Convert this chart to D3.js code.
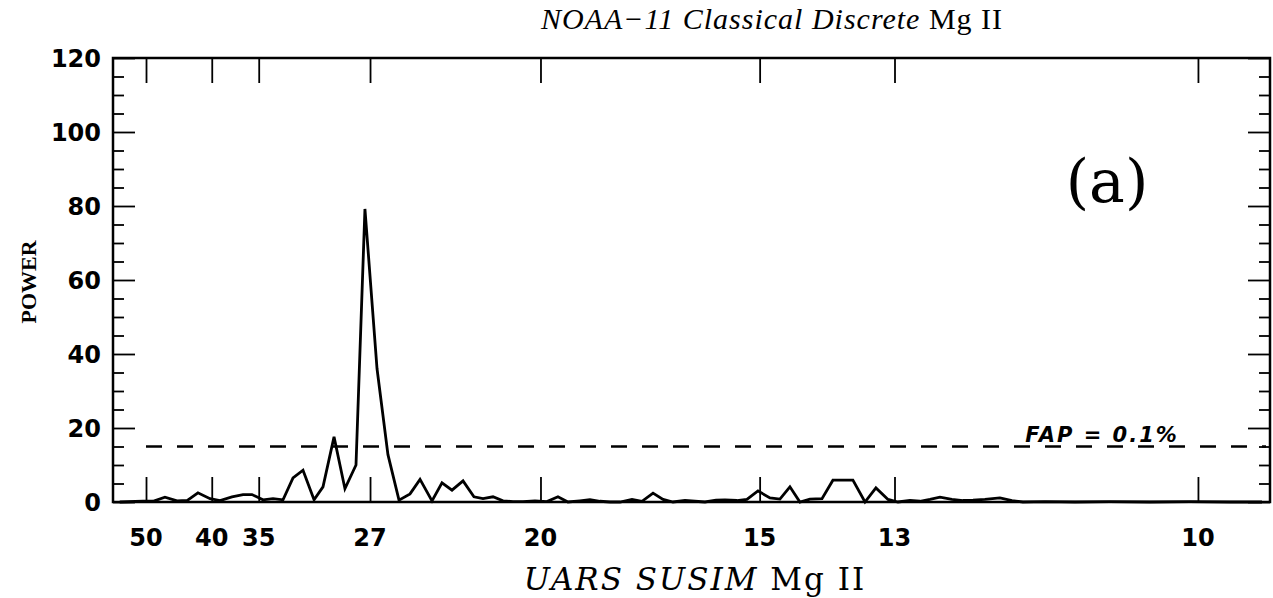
<!DOCTYPE html>
<html>
<head>
<meta charset="utf-8">
<script src="https://cdn.jsdelivr.net/npm/d3@7"></script>
<style>
    body { margin: 0; background: #fff; }
</style>
</head>
<body>
<div id="chart"></div>
<script>
// Frequency (cycles/day) of each periodogram point
const freq = [0.01800, 0.01977, 0.02053, 0.02144, 0.02236, 0.02312, 0.02395, 0.02487, 0.02563, 0.02654,
    0.02738, 0.02806, 0.02890, 0.02966, 0.03042, 0.03118, 0.03194, 0.03278, 0.03346, 0.03430,
    0.03513, 0.03597, 0.03665, 0.03757, 0.03840, 0.03924, 0.04008, 0.04084, 0.04175, 0.04251,
    0.04327, 0.04411, 0.04494, 0.04563, 0.04639, 0.04715, 0.04791, 0.04867, 0.04958, 0.05049,
    0.05133, 0.05209, 0.05300, 0.05376, 0.05452, 0.05529, 0.05605, 0.05696, 0.05772, 0.05856,
    0.05932, 0.06008, 0.06099, 0.06175, 0.06251, 0.06335, 0.06403, 0.06494, 0.06570, 0.06654,
    0.06745, 0.06821, 0.06897, 0.06973, 0.07049, 0.07141, 0.07224, 0.07300, 0.07376, 0.07468,
    0.07551, 0.07643, 0.07719, 0.07810, 0.07886, 0.07962, 0.08038, 0.08129, 0.08213, 0.08289,
    0.08380, 0.08494, 0.08586, 0.08669, 0.08837, 0.09065, 0.09331, 0.09635, 0.09939, 0.10243,
    0.10487];

// Power at each frequency
const power = [0, 0.2, 0.2, 1.3, 0.3, 0.4, 2.5, 0.9, 0.4, 1.4,
    2.0, 2.0, 0.6, 0.9, 0.6, 6.5, 8.6, 0.6, 4.1, 17.6,
    3.6, 10, 79.2, 36, 12.8, 0.5, 2.2, 6.1, 0.3, 5.2,
    3.2, 5.7, 1.4, 0.9, 1.4, 0.3, 0.1, 0.1, 0.3, 0.1,
    1.4, 0, 0.3, 0.6, 0.2, 0, 0, 0.7, 0.2, 2.4,
    0.7, 0, 0.4, 0.2, 0, 0.5, 0.6, 0.4, 0.7, 3.0,
    1.1, 0.8, 4.1, 0, 0.8, 0.9, 5.9, 5.9, 5.9, 0,
    3.8, 0.7, 0, 0.4, 0.2, 0.7, 1.3, 0.7, 0.4, 0.5,
    0.7, 1.1, 0.4, 0, 0.1, 0, 0.1, 0, 0.1, 0,
    0];

// Period tick labels (days) on the x axis
const periodTicks = [50, 40, 35, 27, 20, 15, 13, 10];
const powerTicks = [0, 20, 40, 60, 80, 100, 120];
const fapLevel = 15;

const data = freq.map((f, i) => ({f: f, p: power[i]}));

// Set the dimensions and margins of the graph
let margin = {top: 58, right: 3, bottom: 96, left: 113},
    width = 1273 - margin.left - margin.right,
    height = 598 - margin.top - margin.bottom;

let x = d3.scaleLinear().domain([0.01749, 0.10548]).range([0, width]);
let y = d3.scaleLinear().domain([0, 120]).range([height, 0]);

let svg = d3.select("#chart").append("svg")
    .attr("width", 1273)
    .attr("height", 598)
    .append("g")
    .attr("transform", "translate(" + margin.left + "," + margin.top + ")");

// Dashed false-alarm level
svg.append("line")
    .attr("x1", x(1 / 50)).attr("x2", width - 4)
    .attr("y1", y(fapLevel)).attr("y2", y(fapLevel))
    .attr("stroke", "#000")
    .attr("stroke-width", 2.5)
    .attr("stroke-dasharray", "16,15");

// Power spectrum
svg.append("path")
    .datum(data)
    .attr("fill", "none")
    .attr("stroke", "#000")
    .attr("stroke-width", 2.8)
    .attr("stroke-linejoin", "miter")
    .attr("d", d3.line().x(d => x(d.f)).y(d => y(d.p)));

// Frame, ticks pointing inwards on all four sides
const tickFont = "'DejaVu Sans', sans-serif";
const minorY = d3.range(0, 121, 5).filter(v => v % 20 !== 0);
svg.append("g")
    .call(d3.axisBottom(x).tickValues(periodTicks.map(p => 1 / p)).tickSize(25).tickFormat(""))
    .attr("transform", "translate(0," + height + ") scale(1,-1)");
svg.append("g")
    .call(d3.axisBottom(x).tickValues(periodTicks.map(p => 1 / p)).tickSize(25).tickFormat(""));
svg.append("g")
    .call(d3.axisRight(y).tickValues(minorY).tickSize(11).tickFormat(""));
svg.append("g")
    .call(d3.axisRight(y).tickValues(powerTicks).tickSize(22).tickFormat(""));
svg.append("g")
    .attr("transform", "translate(" + width + ",0)")
    .call(d3.axisLeft(y).tickValues(minorY).tickSize(11).tickFormat(""));
svg.append("g")
    .attr("transform", "translate(" + width + ",0)")
    .call(d3.axisLeft(y).tickValues(powerTicks).tickSize(22).tickFormat(""));
svg.selectAll(".domain").remove();
svg.selectAll(".tick line").attr("stroke", "#000").attr("stroke-width", 1.8);

svg.append("rect")
    .attr("width", width).attr("height", height)
    .attr("fill", "none").attr("stroke", "#000").attr("stroke-width", 2.5);

// Tick labels
svg.selectAll(".xlab")
    .data(periodTicks)
    .enter().append("text")
    .attr("x", d => x(1 / d))
    .attr("y", height + 44)
    .attr("text-anchor", "middle")
    .style("font", "bold 24px " + tickFont)
    .text(d => d);

svg.selectAll(".ylab")
    .data(powerTicks)
    .enter().append("text")
    .attr("x", -12)
    .attr("y", d => y(d) + 9)
    .attr("text-anchor", "end")
    .style("font", "bold 24px " + tickFont)
    .text(d => d);

// Titles
let title = svg.append("text")
    .attr("x", 772 - margin.left).attr("y", 29 - margin.top)
    .attr("text-anchor", "middle")
    .style("font-family", "'Liberation Serif', serif")
    .style("font-size", "30px")
    .style("letter-spacing", "1px");
title.append("tspan").style("font-style", "italic").text("NOAA\u221211 Classical Discrete ");
title.append("tspan").text("Mg II");

let xTitle = svg.append("text")
    .attr("x", 695 - margin.left).attr("y", 590 - margin.top)
    .attr("text-anchor", "middle")
    .style("font-family", "'DejaVu Serif', serif")
    .style("font-size", "31px")
    .style("letter-spacing", "2px");
xTitle.append("tspan").style("font-style", "italic").text("UARS SUSIM ");
xTitle.append("tspan").text("Mg II");

svg.append("text")
    .attr("transform", "translate(" + (36 - margin.left) + "," + (282 - margin.top) + ") rotate(-90)")
    .attr("text-anchor", "middle")
    .style("font", "bold 22px 'Liberation Serif', serif")
    .text("POWER");

svg.append("text")
    .attr("x", 1107 - margin.left).attr("y", 202 - margin.top)
    .attr("text-anchor", "middle")
    .style("font", "60px 'DejaVu Serif', serif")
    .text("(a)");

svg.append("text")
    .attr("x", 1102 - margin.left).attr("y", y(fapLevel) - 5)
    .attr("text-anchor", "middle")
    .style("font", "italic bold 21px 'DejaVu Sans', sans-serif")
    .style("letter-spacing", "2px")
    .text("FAP = 0.1%");
</script>
</body>
</html>
